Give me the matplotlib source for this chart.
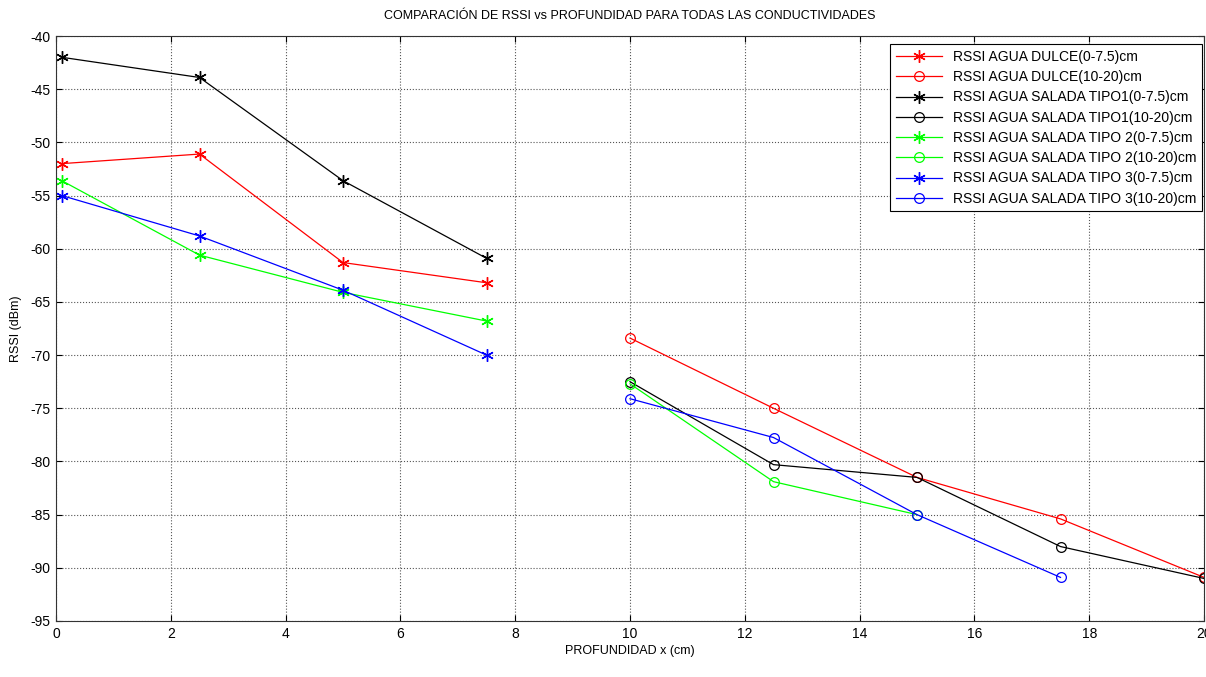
import matplotlib
matplotlib.use("Agg")
import matplotlib.pyplot as plt

plt.rcParams['font.family'] = ['Liberation Sans', 'DejaVu Sans']
plt.rcParams['axes.unicode_minus'] = False

x_shallow = [0.1, 2.5, 5.0, 7.5]
x_deep = [10.0, 12.5, 15.0, 17.5, 20.0]

dulce_shallow = [-52.0, -51.1, -61.3, -63.2]
dulce_deep = [-68.4, -75.0, -81.5, -85.4, -90.9]
tipo1_shallow = [-42.0, -43.9, -53.6, -60.9]
tipo1_deep = [-72.5, -80.3, -81.5, -88.0, -91.0]
tipo2_shallow = [-53.6, -60.6, -64.1, -66.8]
tipo2_deep = [-72.7, -81.9, -85.0]
tipo3_shallow = [-55.0, -58.8, -63.9, -70.0]
tipo3_deep = [-74.1, -77.75, -85.0, -90.9]

labels = [
    "RSSI AGUA DULCE(0-7.5)cm",
    "RSSI AGUA DULCE(10-20)cm",
    "RSSI AGUA SALADA TIPO1(0-7.5)cm",
    "RSSI AGUA SALADA TIPO1(10-20)cm",
    "RSSI AGUA SALADA TIPO 2(0-7.5)cm",
    "RSSI AGUA SALADA TIPO 2(10-20)cm",
    "RSSI AGUA SALADA TIPO 3(0-7.5)cm",
    "RSSI AGUA SALADA TIPO 3(10-20)cm",
]

fig = plt.figure(figsize=(12.06, 6.77), dpi=100)
ax = fig.add_axes([56/1206, (677-621)/677, (1204-56)/1206, (621-36)/677])

series = [
    (x_shallow, dulce_shallow, '#ff0000', '*'),
    (x_deep, dulce_deep, '#ff0000', 'o'),
    (x_shallow, tipo1_shallow, '#000000', '*'),
    (x_deep, tipo1_deep, '#000000', 'o'),
    (x_shallow, tipo2_shallow, '#00ff00', '*'),
    (x_deep[:len(tipo2_deep)], tipo2_deep, '#00ff00', 'o'),
    (x_shallow, tipo3_shallow, '#0000ff', '*'),
    (x_deep[:len(tipo3_deep)], tipo3_deep, '#0000ff', 'o'),
]
for (xs, ys, c, m), lab in zip(series, labels):
    if m == 'o':
        ax.plot(xs, ys, color=c, marker='o', markersize=7, markerfacecolor='none',
                markeredgewidth=0.9, linewidth=0.9, label=lab)
    else:
        ax.plot(xs, ys, color=c, marker=(6, 2, 0), markersize=9, markeredgewidth=1.0,
                linewidth=0.9, label=lab)

ax.set_xlim(0, 20)
ax.set_ylim(-95, -40)
ax.set_xticks(range(0, 21, 2))
ax.set_yticks(range(-95, -39, 5))
ax.grid(True, color='#555555', linestyle=':', linewidth=0.8)
ax.tick_params(direction='in', top=True, right=True, labelsize=10, length=4, pad=4)
for s in ax.spines.values():
    s.set_linewidth(0.8)
    s.set_color('#333333')

ax.set_title("COMPARACIÓN DE RSSI vs PROFUNDIDAD PARA TODAS LAS CONDUCTIVIDADES",
             fontsize=9, pad=12)
ax.set_xlabel("PROFUNDIDAD x (cm)", fontsize=9, labelpad=3)
ax.set_ylabel("RSSI (dBm)", fontsize=9, labelpad=6)

leg = ax.legend(loc='upper right', bbox_to_anchor=(0.9995, 0.988), fontsize=10,
                frameon=True, fancybox=False, edgecolor='black', framealpha=1,
                handlelength=3.3, borderpad=0.4, labelspacing=0.45, borderaxespad=0.1)
leg.get_frame().set_linewidth(0.8)

fig.savefig("out.png", dpi=100)
